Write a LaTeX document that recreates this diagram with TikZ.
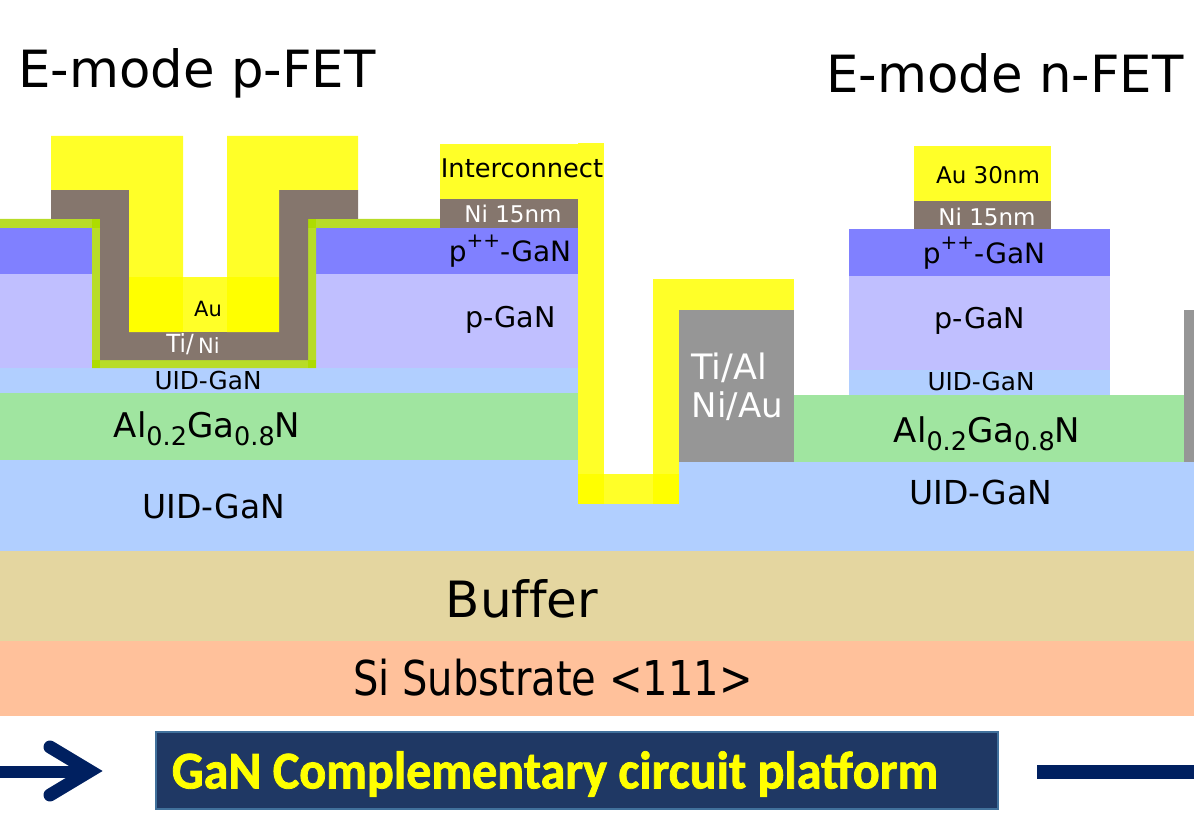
\documentclass[tikz,border=0pt]{standalone}
\usepackage{fontspec}
\setmainfont{DejaVu Sans}
\newfontfamily\carlitofont[BoldFeatures={FakeBold=1.5}]{Carlito}
\definecolor{cgold}{HTML}{FFFF28}
\definecolor{cgoldb}{HTML}{FFFF00}
\definecolor{cni}{HTML}{85766D}
\definecolor{cdiel}{HTML}{B8DC28}
\definecolor{cdielb}{HTML}{AEDC00}
\definecolor{cppp}{HTML}{8080FF}
\definecolor{cpg}{HTML}{C0BFFF}
\definecolor{cuid}{HTML}{B1CFFF}
\definecolor{calg}{HTML}{A0E5A0}
\definecolor{cbuf}{HTML}{E4D6A0}
\definecolor{csub}{HTML}{FFC19B}
\definecolor{cohm}{HTML}{969696}
\definecolor{cnavy}{HTML}{002060}
\definecolor{cbox}{HTML}{1F3864}
\definecolor{cboxl}{HTML}{41719C}
\newcommand{\fs}[1]{\fontsize{#1}{#1}\selectfont}
\newcommand{\lowtxt}[2]{\raisebox{-0.25em}{\fs{#1}#2}}
\newcommand{\hightxt}[2]{\raisebox{0.48em}{\fs{#1}#2}}
\tikzset{
  lbl/.style={inner sep=0pt,outer sep=0pt,text=black,anchor=center},
  wlbl/.style={lbl,text=white},
  arrowline/.style={draw=cnavy,line width=12pt},
}
\begin{document}
\begin{tikzpicture}[x=1pt,y=-1pt]
\useasboundingbox (0,0) rectangle (1194,829);
% substrate stack
\fill[csub] (0,641) rectangle (1194,716);
\fill[cbuf] (0,551) rectangle (1194,641);
\fill[cuid] (0,460) rectangle (578,551);
\fill[cuid] (578,461) rectangle (1194,551);
\fill[white] (604,440) rectangle (653,474);
% left stack
\fill[calg] (0,393) rectangle (578,460);
\fill[cuid] (0,368) rectangle (578,393);
\fill[cpg] (0,274) rectangle (92,368);
\fill[cpg] (316,274) rectangle (578,368);
\fill[cppp] (0,228) rectangle (92,274);
\fill[cppp] (316,228) rectangle (578,274);
% dielectric
\fill[cdiel] (0,219) -| (100,360) -- (308,360) |- (440,219) -- (440,228) -- (316,228) -- (316,368) -- (92,368) -- (92,228) -- (0,228) -- cycle;
\fill[cdielb] (92,219) rectangle (100,228);
\fill[cdielb] (308,219) rectangle (316,228);
\fill[cdielb] (92,360) rectangle (100,368);
\fill[cdielb] (308,360) rectangle (316,368);
% gate metal
\fill[cni] (51,190) -- (129,190) -- (129,332) -- (279,332) -- (279,190) -- (358,190) -- (358,219) -- (308,219) -- (308,360) -- (100,360) -- (100,219) -- (51,219) -- cycle;
\fill[cgold] (51,136) -- (183,136) -- (183,332) -- (129,332) -- (129,190) -- (51,190) -- cycle;
\fill[cgold] (227,136) -- (358,136) -- (358,190) -- (279,190) -- (279,332) -- (227,332) -- cycle;
\fill[cgold] (183,277) rectangle (227,332);
\fill[cgoldb] (129,277) rectangle (183,332);
\fill[cgoldb] (227,277) rectangle (279,332);
% interconnect
\fill[cni] (440,199) rectangle (578,228);
\fill[cgold] (440,144) rectangle (578,199);
\fill[cgold] (578,143) rectangle (604,504);
\fill[cgold] (604,474) rectangle (653,504);
\fill[cgold] (653,279) rectangle (679,504);
\fill[cgold] (679,279) rectangle (794,310);
\fill[cgoldb] (578,474) rectangle (604,504);
\fill[cgoldb] (653,474) rectangle (679,504);
\fill[cohm] (679,310) rectangle (794,462);
% right stack
\fill[calg] (794,395) rectangle (1184,462);
\fill[cohm] (1184,310) rectangle (1194,462);
\fill[cuid] (849,370) rectangle (1110,395);
\fill[cpg] (849,276) rectangle (1110,370);
\fill[cppp] (849,229) rectangle (1110,276);
\fill[cni] (914,201) rectangle (1051,229);
\fill[cgold] (914,146) rectangle (1051,201);
% labels
\node[lbl,font=\fs{51.3}] (tp) at (197,73) {E-mode p-FET};
\node[lbl,font=\fs{51.3}] (tn) at (1005,73) {E-mode n-FET};
\node[lbl,font=\fs{25.7}] (ic) at (522,168) {Interconnect};
\node[wlbl,font=\fs{23}] (ni1) at (513,214) {Ni 15nm};
\node[lbl,font=\fs{28}] (pp1) at (510,251) {p\hightxt{20}{++}-GaN};
\node[lbl,font=\fs{28.6}] (p1) at (510.5,320) {p-GaN};
\node[lbl,font=\fs{21}] (au1) at (208,309) {Au};
\node[wlbl,font=\fs{25}] (ti1) at (180,344) {\scalebox{0.92}[1]{Ti/}};
\node[wlbl,font=\fs{21}] (ni2) at (209,346) {Ni};
\node[lbl,font=\fs{24.7}] (uid1) at (208,381) {UID-GaN};
\node[lbl,font=\fs{34}] (alg1) at (207,429) {Al\lowtxt{25.5}{0.2}Ga\lowtxt{25.5}{0.8}N};
\node[lbl,font=\fs{33}] (uid2) at (214,506) {UID-GaN};
\node[wlbl,font=\fs{35}] (oh1) at (729,368) {Ti/Al};
\node[wlbl,font=\fs{34}] (oh2) at (737.5,406) {Ni/Au};
\node[lbl,font=\fs{23}] (au2) at (988,175) {Au 30nm};
\node[wlbl,font=\fs{23}] (ni3) at (987,217) {Ni 15nm};
\node[lbl,font=\fs{28}] (pp2) at (984,253) {p\hightxt{20}{++}-GaN};
\node[lbl,font=\fs{28.6}] (p2) at (980,321) {p-GaN};
\node[lbl,font=\fs{24.7}] (uid3) at (981,382) {UID-GaN};
\node[lbl,font=\fs{34}] (alg2) at (987,434) {Al\lowtxt{25.5}{0.2}Ga\lowtxt{25.5}{0.8}N};
\node[lbl,font=\fs{33}] (uid4) at (981,492) {UID-GaN};
\node[lbl,font=\fs{50}] (buf) at (522,599) {Buf\kern0pt fer};
\node[lbl,font=\fs{48}] (si) at (553,678) {\scalebox{0.834}[1]{Si Substrate <111>}};
% banner
\node[draw=cboxl,line width=2pt,fill=cbox,minimum width=842pt,minimum height=77pt,inner sep=0pt,outer sep=0pt,anchor=center] (box) at (577,770.5) {};
\node[lbl,text=cgoldb,font=\carlitofont\bfseries\fs{53}] (boxt) at (555,774) {\scalebox{0.945}[1]{GaN Complementary circuit platf\kern0pt orm}};
% arrows
\coordinate (a0) at (0,772);
\coordinate (a1) at (85,772);
\coordinate (h1) at (50,747);
\coordinate (h2) at (50,795);
\coordinate (a2) at (90,771);
\coordinate (b0) at (1037,772);
\coordinate (b1) at (1194,772);
\draw[arrowline] (a0) -- (a1);
\draw[arrowline,line width=13pt,line cap=round,line join=miter] (h1) -- (a2) -- (h2);
\draw[arrowline,line width=14pt] (b0) -- (b1);
\end{tikzpicture}
\end{document}
